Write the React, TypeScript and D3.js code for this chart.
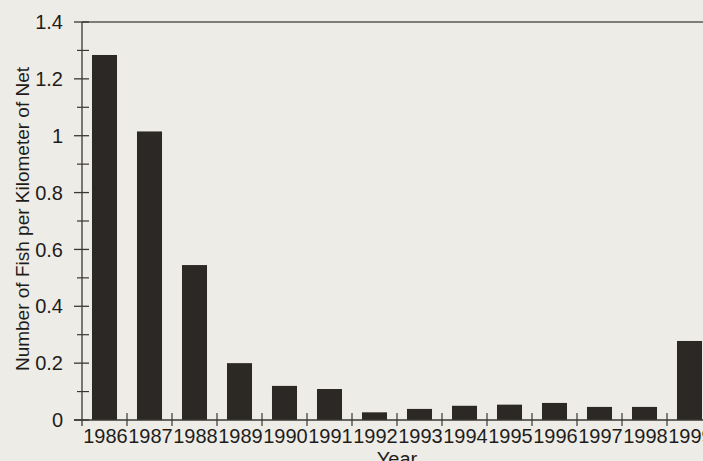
import React from "react";
import * as d3 from "d3";

// values
const years = ["1986", "1987", "1988", "1989", "1990", "1991", "1992", "1993", "1994", "1995", "1996", "1997", "1998", "1999"];
const fishPerKm = [1.284, 1.015, 0.545, 0.2, 0.12, 0.109, 0.027, 0.039, 0.05, 0.054, 0.06, 0.046, 0.046, 0.278];
const yMajorTicks = [0, 0.2, 0.4, 0.6, 0.8, 1, 1.2, 1.4];
const yMinorTicks = [0.1, 0.3, 0.5, 0.7, 0.9, 1.1, 1.3];

const W = 703;
const H = 461;
const font = "'Liberation Sans', Arial, sans-serif";

const App = () => {
	const left = 82,
		step = 45,
		top = 22,
		bottom = 420;

	// plot runs past the right edge, as in the cropped scan
	const x = d3
		.scaleBand()
		.domain(years)
		.range([left, left + step * years.length])
		.paddingInner(0.444)
		.paddingOuter(0.222);

	const y = d3.scaleLinear().domain([0, 1.4]).range([bottom, top]);

	const boundaries = years.map((yr) => (x(yr) as number) - x.step() * 0.222);

	return (
		<div style={{ position: "absolute", left: 0, top: 0 }}>
			<svg width={W} height={H} style={{ display: "block", background: "#eeece6" }}>
				<rect x={0} y={0} width={W} height={H} fill="#eeece6" />

				{/* top frame line */}
				<line x1={left} x2={W} y1={y(1.4)} y2={y(1.4)} stroke="#5a5855" strokeWidth={1.5} />

				{/* bars */}
				{years.map((yr, i) => (
					<rect
						key={yr}
						x={x(yr)}
						y={y(fishPerKm[i])}
						width={x.bandwidth()}
						height={y(0) - y(fishPerKm[i])}
						fill="#2b2826"
					/>
				))}

				{/* y axis */}
				<line x1={left} x2={left} y1={top} y2={bottom + 6} stroke="#3a3836" strokeWidth={1.3} />
				{yMajorTicks.map((t) => (
					<g key={t}>
						<line x1={left - 8} x2={left + 7} y1={y(t)} y2={y(t)} stroke="#3a3836" strokeWidth={1.3} />
						<text
							x={63}
							y={y(t)}
							dy="0.36em"
							textAnchor="end"
							fontFamily={font}
							fontSize={20}
							fill="#1e1d1c"
						>
							{t}
						</text>
					</g>
				))}
				{yMinorTicks.map((t) => (
					<line key={t} x1={left - 5} x2={left + 7} y1={y(t)} y2={y(t)} stroke="#3a3836" strokeWidth={1.2} />
				))}

				{/* x axis */}
				<line x1={left - 8} x2={W} y1={bottom} y2={bottom} stroke="#3a3836" strokeWidth={1.3} />
				{boundaries.slice(1).map((bx, i) => (
					<line key={i} x1={bx} x2={bx} y1={bottom - 7} y2={bottom + 6} stroke="#3a3836" strokeWidth={1.2} />
				))}
				{years.map((yr) => (
					<text
						key={yr}
						x={(x(yr) as number) + x.bandwidth() / 2 + 1}
						y={443}
						textAnchor="middle"
						fontFamily={font}
						fontSize={20}
						fill="#1e1d1c"
					>
						{yr}
					</text>
				))}

				{/* axis titles */}
				<text
					transform="translate(29,219) rotate(-90)"
					textAnchor="middle"
					fontFamily={font}
					fontSize={19}
					fill="#1e1d1c"
				>
					Number of Fish per Kilometer of Net
				</text>
				<text x={397} y={466} textAnchor="middle" fontFamily={font} fontSize={20} fill="#1e1d1c">
					Year
				</text>
			</svg>
		</div>
	);
};

export default App;
